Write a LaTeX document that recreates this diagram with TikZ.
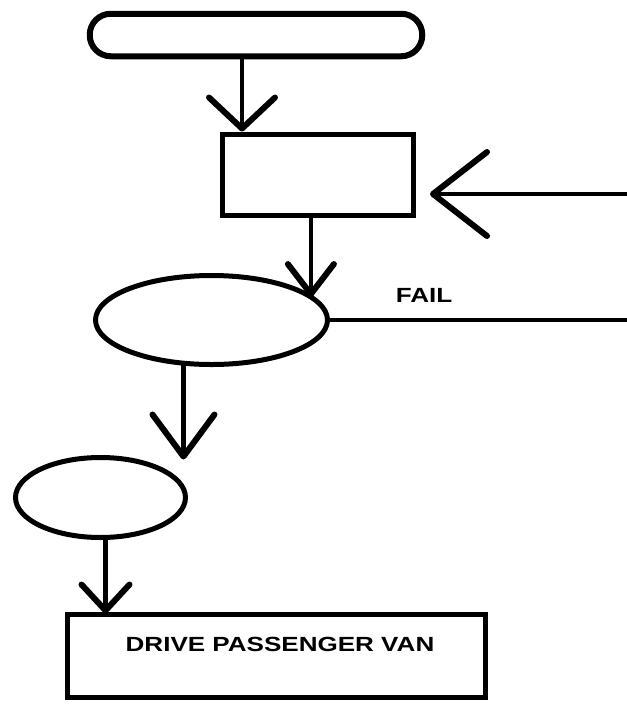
\documentclass[tikz,border=0pt]{standalone}
\usepackage{graphicx}
\usepackage{fontspec}
\setmainfont{Liberation Sans}
\usetikzlibrary{arrows.meta,shapes.geometric,calc}
\begin{document}
\begin{tikzpicture}[x=1pt,y=-1pt,
  every node/.style={inner sep=0pt, outer sep=0pt},
  box/.style={draw, line width=5pt, rectangle},
  oval/.style={draw, line width=5pt, ellipse},
  term/.style={draw, line width=6pt, rectangle, rounded corners=21pt},
  conn/.style={line width=4.5pt},
  plain/.style={line width=3.5pt},
  lbl/.style={font=\bfseries\fontsize{20.5}{21}\selectfont},
  tipA/.style={-{Straight Barb[length=31pt,width=66pt,line width=6pt,round]}},
  tipB/.style={-{Straight Barb[length=30pt,width=46pt,line width=6pt,round]}},
  tipC/.style={-{Straight Barb[length=42pt,width=62pt,line width=6pt,round]}},
  tipD/.style={-{Straight Barb[length=26pt,width=48pt,line width=6pt,round]}},
  tipE/.style={-{Straight Barb[length=54pt,width=84pt,line width=6pt,round]}},
  ]
\useasboundingbox (0,0) rectangle (627,705);
\fill[white] (0,0) rectangle (627,705);

\node[term, minimum width=332.5pt, minimum height=42.5pt] (st) at (256,35) {};
\node[box, minimum width=191pt, minimum height=81pt] (r1) at (318,175) {};
\node[oval, minimum width=232pt, minimum height=89pt] (e1) at (211.5,320) {};
\node[oval, minimum width=170pt, minimum height=80pt] (e2) at (100.5,497.5) {};
\node[box, minimum width=418pt, minimum height=83pt] (r2) at (276.5,656) {};

\node[lbl] (fail) at (424,295) {\scalebox{1.27}[1]{FAIL}};
\node[lbl] (drive) at (280,644) {\scalebox{1.27}[1]{DRIVE PASSENGER VAN}};

\coordinate (inR) at (627,194);
\coordinate (failEnd) at (627,320);

\draw[conn, tipA] ($(st.south)+(-14,0)$) -- ($(r1.north)+(-76,-3)$);
\draw[conn, tipE] (inR) -- ($(r1.east |- inR)+(16.5,0)$);
\draw[conn, tipB] (r1.south -| e1.13) -- (e1.13);
\draw[plain] (e1.east) -- (e1.east -| failEnd);
\draw[conn, tipC] (e1.237) -- ($(e1.237 |- e2.north)+(0,2)$);
\draw[conn, tipD] ($(e2.south)+(5,0)$) -- ($(e2.south |- r2.north)+(5,-1)$);
\end{tikzpicture}
\end{document}
